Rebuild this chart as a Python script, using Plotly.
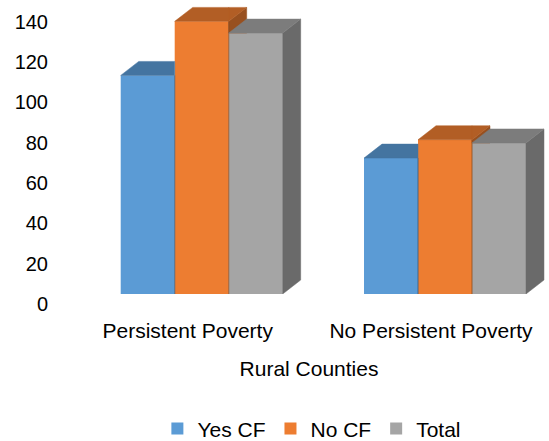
import plotly.graph_objects as go

# Chart data
categories = ["Persistent Poverty", "No Persistent Poverty"]
series_names = ["Yes CF", "No CF", "Total"]
yes_cf = [108.4, 67.4]
no_cf = [135.2, 76.5]
total = [129.4, 74.9]
y_ticks = [0, 20, 40, 60, 80, 100, 120, 140]

series_values = [yes_cf, no_cf, total]
front_colors = ["#5B9BD5", "#ED7D31", "#A5A5A5"]
top_colors = ["#4474A0", "#B25E25", "#7C7C7C"]
side_colors = ["#3A6388", "#98501F", "#6A6A6A"]

FONT = "Liberation Sans, Arial, sans-serif"

# Bar geometry (in axis units)
bar_w = 0.2219
group_start = -1.5 * bar_w
depth_x = 0.074    # horizontal extent of the 3D depth
depth_y = 6.94     # vertical extent of the 3D depth


def clip_half(poly, keep, cross):
    out = []
    n = len(poly)
    for k in range(n):
        p, q = poly[k], poly[(k + 1) % n]
        pin, qin = keep(p), keep(q)
        if pin:
            out.append(p)
        if pin != qin:
            out.append(cross(p, q))
    return out


def cross_x(xc):
    def f(p, q):
        t = (xc - p[0]) / (q[0] - p[0])
        return (xc, p[1] + t * (q[1] - p[1]))
    return f


def cross_y(yc):
    def f(p, q):
        t = (yc - p[1]) / (q[1] - p[1])
        return (p[0] + t * (q[0] - p[0]), yc)
    return f


def visible_parts(poly, xc, yc):
    """Parts of poly not hidden behind the next bar's front face
    (x in [xc, ...], y below yc)."""
    if yc is None:
        return [poly]
    eps = 1e-9
    left = clip_half(poly, lambda p: p[0] <= xc + eps, cross_x(xc))
    right = clip_half(poly, lambda p: p[0] >= xc - eps, cross_x(xc))
    right = clip_half(right, lambda p: p[1] >= yc - eps, cross_y(yc))
    return [pp for pp in (left, right) if len(pp) >= 3]


def to_xy(polys):
    xs, ys = [], []
    for poly in polys:
        for (px, py) in poly:
            xs.append(px)
            ys.append(py)
        xs.append(poly[0][0])
        ys.append(poly[0][1])
        xs.append(None)
        ys.append(None)
    return xs, ys


fig = go.Figure()

# Front faces as bars
for i, (name, vals) in enumerate(zip(series_names, series_values)):
    fig.add_trace(go.Bar(
        x=list(range(len(categories))), y=vals, name=name,
        width=bar_w, offset=group_start + i * bar_w,
        marker=dict(color=front_colors[i], line=dict(width=0)),
        hoverinfo="skip",
    ))

# Top and side faces, drawn left to right within each group
for g in range(len(categories)):
    for i, vals in enumerate(series_values):
        v = vals[g]
        x0 = g + group_start + i * bar_w
        x1 = x0 + bar_w
        nxt = series_values[i + 1][g] if i + 1 < len(series_values) else None
        top = [(x0, v), (x1, v), (x1 + depth_x, v + depth_y), (x0 + depth_x, v + depth_y)]
        side = [(x1, 0), (x1 + depth_x, depth_y), (x1 + depth_x, v + depth_y), (x1, v)]
        for poly, col in ((side, side_colors[i]), (top, top_colors[i])):
            parts = visible_parts(poly, x1, nxt)
            if not parts:
                continue
            xs, ys = to_xy(parts)
            fig.add_trace(go.Scatter(
                x=xs, y=ys, mode="lines", fill="toself", fillcolor=col,
                line=dict(width=0.5, color=col), showlegend=False,
                hoverinfo="skip",
            ))

fig.update_layout(
    width=549, height=441, autosize=False,
    margin=dict(l=69, r=0, t=0, b=147, pad=0, autoexpand=False),
    paper_bgcolor="white", plot_bgcolor="white",
    barmode="overlay",
    font=dict(family=FONT, size=21, color="#000000"),
    showlegend=True,
    legend=dict(
        orientation="h", x=0.506, xanchor="center", y=-0.459, yanchor="middle",
        font=dict(family=FONT, size=21, color="#000000"),
        traceorder="normal", itemwidth=30, bgcolor="rgba(0,0,0,0)",
    ),
    xaxis=dict(
        range=[-0.5454, 1.4275], tickmode="array",
        tickvals=list(range(len(categories))), ticktext=categories,
        showgrid=False, zeroline=False, showline=False, ticks="",
        ticklabelshift=-14, ticklabelstandoff=22, automargin=False,
        tickfont=dict(family=FONT, size=21, color="#000000"),
        title=dict(text="Rural Counties", standoff=20,
                   font=dict(family=FONT, size=21, color="#000000")),
        fixedrange=True,
    ),
    yaxis=dict(
        range=[0, 145.8], tickmode="array", tickvals=y_ticks,
        showgrid=False, zeroline=False, showline=False, ticks="",
        ticklabelshift=10, ticklabelstandoff=20, automargin=False,
        tickfont=dict(family=FONT, size=20, color="#000000"),
        fixedrange=True,
    ),
)

fig.write_html("out.html")
